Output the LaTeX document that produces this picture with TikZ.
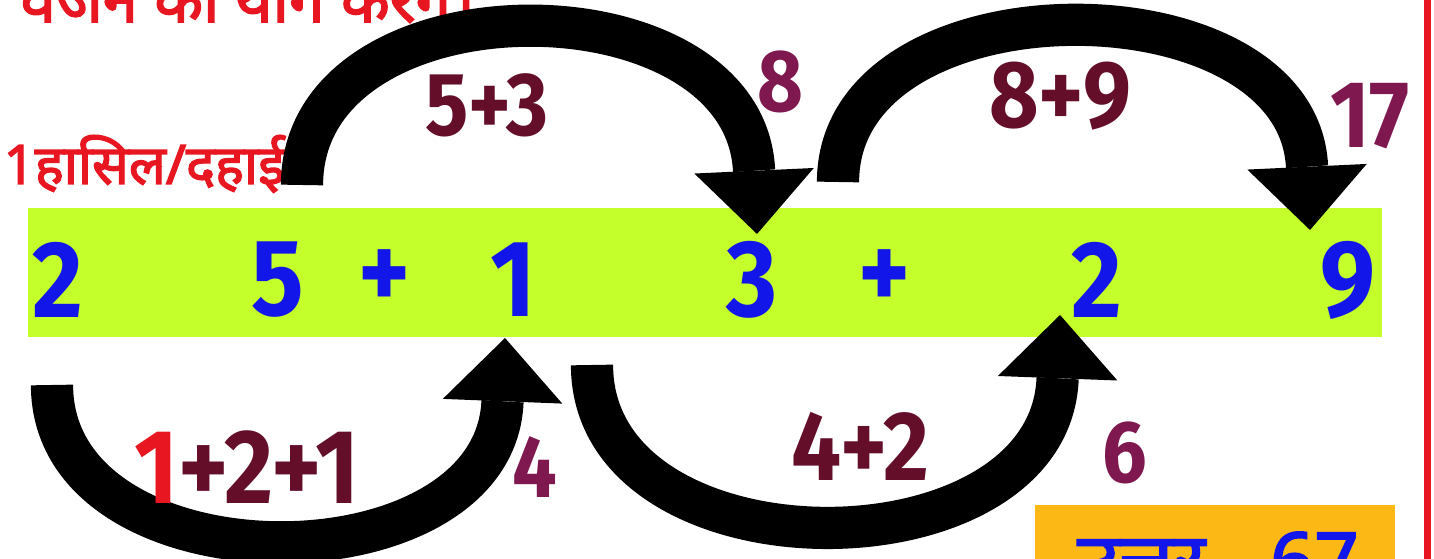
\documentclass[tikz,border=0pt]{standalone}
\usepackage{fontspec}
\usetikzlibrary{arrows.meta}
\newfontfamily\deva[Script=Devanagari,FakeBold=2.5]{Noto Sans}
\newfontfamily\numf[FakeStretch=0.9]{Fira Sans}
\definecolor{digblue}{RGB}{18,22,232}
\definecolor{labdark}{RGB}{100,14,42}
\definecolor{labpurp}{RGB}{128,24,80}
\definecolor{redT}{RGB}{232,22,32}
\definecolor{bandgreen}{RGB}{196,255,44}
\definecolor{boxorange}{RGB}{252,184,20}
\begin{document}
\begin{tikzpicture}[x=0.01cm,y=-0.01cm,
  digit/.style={text=digblue,inner sep=0pt,font=\numf\bfseries\fontsize{31}{31}\selectfont},
  labA/.style={text=labdark,inner sep=0pt,font=\numf\bfseries\fontsize{27}{27}\selectfont},
  labB/.style={text=labpurp,inner sep=0pt,font=\numf\bfseries\fontsize{25}{25}\selectfont},
  bigarrow/.style={line width=12pt,draw=black,-{Triangle[length=18pt,width=34pt,line width=0pt]}}]
\useasboundingbox (0,0) rectangle (1434,559);
\clip (0,0) rectangle (1434,559);
\fill[white] (0,0) rectangle (1434,559);
% band
\fill[bandgreen] (28,208) rectangle (1382,337);
% right red rule
\fill[redT] (1424,0) rectangle (1431,559);
% answer box
\fill[boxorange] (1035,505) rectangle (1395,600);
\node[anchor=base,inner sep=0pt,text=digblue,font=\deva\bfseries\fontsize{22}{22}\selectfont] (ans) at (1218,588) {उत्तर - 67};
% headline (cut at the top edge, as in the reference)
\node[anchor=base west,inner sep=0pt,text=redT,font=\deva\bfseries\fontsize{18}{18}\selectfont] (head) at (20,22) {वजन का योग करेंगे।};
\node[anchor=base west,inner sep=0pt,text=redT,font=\deva\bfseries\fontsize{15.5}{15.5}\selectfont] (carry) at (3,184) {1हासिल/दहाई};
% digits in band
\node[digit] (d1) at (58,280) {2};
\node[digit] (d2) at (278,280) {5};
\node[digit] (p1) at (385,280) {+};
\node[digit] (d3) at (513,280) {1};
\node[digit] (d4) at (752,280) {3};
\node[digit] (p2) at (885,280) {+};
\node[digit] (d5) at (1097,280) {2};
\node[digit] (d6) at (1348,280) {9};
% arrow anchor points
\coordinate (s1) at (302,185);
\coordinate (t1) at (757,234);
\coordinate (s2) at (838,182);
\coordinate (t2) at (1310,230);
\coordinate (s3) at (52,385);
\coordinate (t3) at (505,338);
\coordinate (s4) at (592,365);
\coordinate (t4) at (1060,315);
\draw[bigarrow] (s1) .. controls (302,-25) and (745,-25) .. (t1);
\draw[bigarrow] (s2) .. controls (838,-25) and (1298,-25) .. (t2);
\draw[bigarrow] (s3) .. controls (52,592) and (495,592) .. (t3);
\draw[bigarrow] (s4) .. controls (592,580) and (1050,580) .. (t4);
% labels
\node[labA,font=\numf\bfseries\fontsize{25.5}{25.5}\selectfont] (l1) at (487,105) {5+3};
\node[labB] (r1) at (780,82) {8};
\node[labA] (l2) at (1060,96) {8+9};
\node[labB,font=\numf\bfseries\fontsize{27}{27}\selectfont] (r2) at (1370,116) {17};
\node[labA,font=\numf\bfseries\fontsize{30}{30}\selectfont] (l3) at (247,467) {\textcolor{redT}{1}+2+1};
\node[labB] (r3) at (535,467) {4};
\node[labA,font=\numf\bfseries\fontsize{28}{28}\selectfont] (l4) at (860,446) {4+2};
\node[labB] (r4) at (1125,453) {6};
\end{tikzpicture}
\end{document}
